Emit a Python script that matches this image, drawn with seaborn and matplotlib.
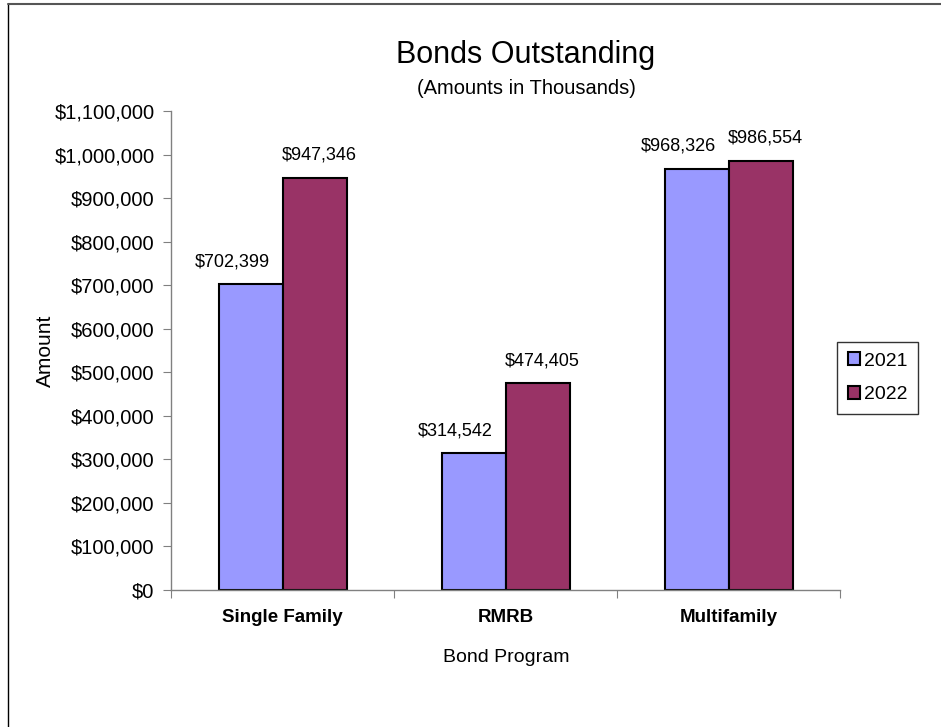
import matplotlib
matplotlib.use('Agg')
import matplotlib.pyplot as plt
import seaborn as sns
import pandas as pd
from matplotlib.ticker import FuncFormatter
from matplotlib.lines import Line2D

programs = ['Single Family', 'RMRB', 'Multifamily']
years = ['2021', '2022']
amounts_2021 = [702399, 314542, 968326]
amounts_2022 = [947346, 474405, 986554]

df = pd.DataFrame({
    'program': programs * 2,
    'year': [years[0]] * 3 + [years[1]] * 3,
    'amount': amounts_2021 + amounts_2022,
})

sns.set_style('white')
plt.rcParams['font.family'] = ['Liberation Sans', 'DejaVu Sans']
plt.rcParams['text.color'] = 'black'
plt.rcParams['axes.labelcolor'] = 'black'
plt.rcParams['xtick.color'] = 'black'
plt.rcParams['ytick.color'] = 'black'

fig = plt.figure(figsize=(9.41, 7.27), dpi=100)
ax = fig.add_axes([0.182, 0.1885, 0.711, 0.6585])

sns.barplot(data=df, x='program', y='amount', hue='year', order=programs,
            hue_order=years, palette=['#9999FF', '#993366'], width=0.574,
            edgecolor='black', linewidth=1.5, saturation=1, ax=ax)

# value labels: Excel nudges the left-hand labels a bit to the left
shifts = [-13, 3]
for cont, dx in zip(ax.containers, shifts):
    for bar, v in zip(cont, cont.datavalues):
        ax.annotate('${:,.0f}'.format(v), (bar.get_x() + bar.get_width() / 2, v),
                    xytext=(dx, 10), textcoords='offset points',
                    ha='center', va='bottom', fontsize=13)

ax.set_ylim(0, 1100000)
ax.set_yticks(range(0, 1100001, 100000))
ax.yaxis.set_major_formatter(FuncFormatter(lambda v, p: '${:,.0f}'.format(v)))
ax.set_xlim(-0.5, 2.5)
ax.set_xticks([-0.5, 0.5, 1.5, 2.5])
ax.set_xticklabels([])
ax.set_xticks([0, 1, 2], minor=True)
ax.set_xticklabels(programs, minor=True, fontsize=13.5, fontweight='bold')
ax.tick_params(axis='x', which='minor', length=0, pad=14)
ax.tick_params(axis='x', which='major', length=6, color='#808080', direction='out')
ax.tick_params(axis='y', length=6, color='#808080', direction='out', labelsize=14.5, pad=6)
ax.tick_params(axis='both', bottom=True, left=True)

for s in ['top', 'right']:
    ax.spines[s].set_visible(False)
for s in ['left', 'bottom']:
    ax.spines[s].set_color('#808080')
    ax.spines[s].set_linewidth(1)

ax.set_xlabel('Bond Program', fontsize=14, labelpad=16)
ax.set_ylabel('Amount', fontsize=15, labelpad=0)

fig.text(0.559, 0.924, 'Bonds Outstanding', ha='center', va='center', fontsize=22)
fig.text(0.559, 0.878, '(Amounts in Thousands)', ha='center', va='center', fontsize=14.5)

leg = ax.legend(loc='center left', bbox_to_anchor=(0.995, 0.443), fontsize=14,
                frameon=True, fancybox=False, edgecolor='black', handlelength=0.65,
                handleheight=0.65, handletextpad=0.2, borderpad=0.55, labelspacing=0.85,
                borderaxespad=0)
leg.get_frame().set_linewidth(1)

fig.lines.append(Line2D([0.009, 0.009], [0, 0.995], transform=fig.transFigure,
                        color='black', linewidth=1))
fig.lines.append(Line2D([0.009, 1.0], [0.995, 0.995], transform=fig.transFigure,
                        color='#555555', linewidth=1.5))

fig.savefig('out.png', dpi=100)
